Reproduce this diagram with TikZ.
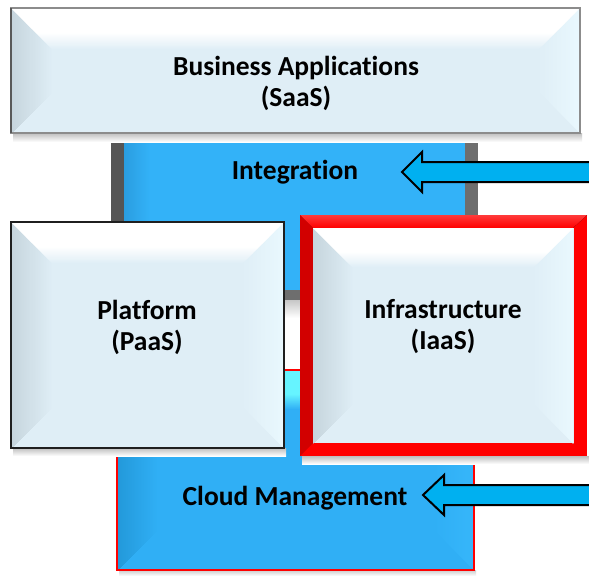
\documentclass[tikz,border=0pt]{standalone}
\usepackage{fontspec}
\setmainfont{Carlito}[Ligatures=NoCommon]
\definecolor{lbase}{HTML}{DFEEF6}
\definecolor{lleft}{HTML}{C6D5DD}
\definecolor{lright}{HTML}{E9F8FE}
\definecolor{bbase}{HTML}{30AFF5}
\definecolor{btop}{HTML}{66F4FF}
\definecolor{bleft}{HTML}{2399DA}
\definecolor{bright}{HTML}{36B6FA}
\definecolor{intblue}{HTML}{33B2F8}
\definecolor{intleft}{HTML}{2A9DE0}
\definecolor{gdark}{HTML}{555555}
\definecolor{gmid}{HTML}{6E6E6E}
\definecolor{arrowblue}{HTML}{00B0F0}
\definecolor{framered}{HTML}{FF0000}
\definecolor{lightred}{HTML}{FF3A3A}
\definecolor{darkred}{HTML}{D20000}
% #1 x1, #2 y1, #3 x2, #4 y2, #5 bevel, #6 base, #7 top, #8 left, #9 right
\newcommand{\bevbox}[9]{%
  \fill[#6] (#1,#2) rectangle (#3,#4);
  \foreach \i in {0,...,39}{%
    \pgfmathsetmacro\e{#5*(40-\i)/40}%
    \pgfmathsetmacro\p{100*(\i+0.5)/40}%
    \pgfmathsetmacro\q{min(100,max(0,100*(#5-\e)/(0.38*#5)))}%
    \fill[#8!\p!#6] (#1,#2) -- ({#1+\e},{#2+\e}) -- ({#1+\e},{#4-\e}) -- (#1,#4) -- cycle;
    \fill[#9!\p!#6] (#3,#2) -- ({#3-\e},{#2+\e}) -- ({#3-\e},{#4-\e}) -- (#3,#4) -- cycle;
    \fill[#7!\q!#6] (#1,#2) -- (#3,#2) -- ({#3-\e},{#2+\e}) -- ({#1+\e},{#2+\e}) -- cycle;
  }%
}
\tikzset{
  label/.style={font=\bfseries\fontsize{27.5}{31}\selectfont, align=center, text=black, inner sep=0pt},
  blockarrow/.style={draw=black, line width=2pt, fill=arrowblue, line join=miter},
}
\begin{document}
\begin{tikzpicture}[x=1pt,y=-1pt]
\useasboundingbox (0,0) rectangle (589,576);
\clip (0,0) rectangle (589,576);
\fill[white] (0,0) rectangle (589,576);

% Integration layer
\fill[top color=black!22, bottom color=white] (111,300) rectangle (478,318);
\fill[gmid] (111,134) rectangle (478,300);
\fill[gdark] (111,134) rectangle (124,300);
\fill[intblue] (124,134) rectangle (465,290);
\fill[left color=intleft, right color=intblue] (124,134) rectangle (150,290);

% Cloud Management layer
\fill[top color=black!20, bottom color=white] (119,570) rectangle (476,576);
\bevbox{117}{370}{474}{570}{40}{bbase}{btop}{bleft}{bright}
\draw[red, line width=2pt] (117,370) rectangle (474,570);

% SaaS
\fill[top color=black!25, bottom color=white] (13,133) rectangle (582,142);
\bevbox{11}{8}{580}{133}{42}{lbase}{white}{lleft}{lright}
\draw[black!45, line width=2pt] (11,8) rectangle (580,133);
\draw[black!65, line width=2pt] (11,8) -- (11,133);

% Platform
\fill[top color=black!25, bottom color=white] (13,448) rectangle (286,456);
\bevbox{11}{222}{284}{448}{42}{lbase}{white}{lleft}{lright}
\draw[black!88, line width=2.5pt] (11,222) rectangle (284,448);

% Infrastructure
\fill[top color=black!25, bottom color=white] (302,456) rectangle (589,464);
\fill[framered] (300,215) rectangle (587,456);
\fill[top color=lightred, bottom color=framered] (300,215) -- (587,215) -- (573,228) -- (313,228) -- cycle;
\fill[darkred] (300,215) -- (313,228) -- (313,443) -- (300,456) -- cycle;
\bevbox{313}{228}{573}{443}{40}{lbase}{white}{lleft}{lright}

% Arrows
\draw[blockarrow] (595,162) -- (422,162) -- (422,152) -- (402,172) -- (422,192) -- (422,182) -- (595,182) ;
\draw[blockarrow] (595,485) -- (444,485) -- (444,475) -- (423,495) -- (444,515) -- (444,505) -- (595,505) ;

% Labels
\node[label] (saas) at (296,83) {Business Applications\\(SaaS)};
\node[label] (integ) at (295,172) {Integration};
\node[label] (paas) at (147,327) {Platform\\(PaaS)};
\node[label] (iaas) at (443,327) {Infrastructure\\(IaaS)};
\node[label] (cm) at (295,498) {Cloud Management};
\end{tikzpicture}
\end{document}
